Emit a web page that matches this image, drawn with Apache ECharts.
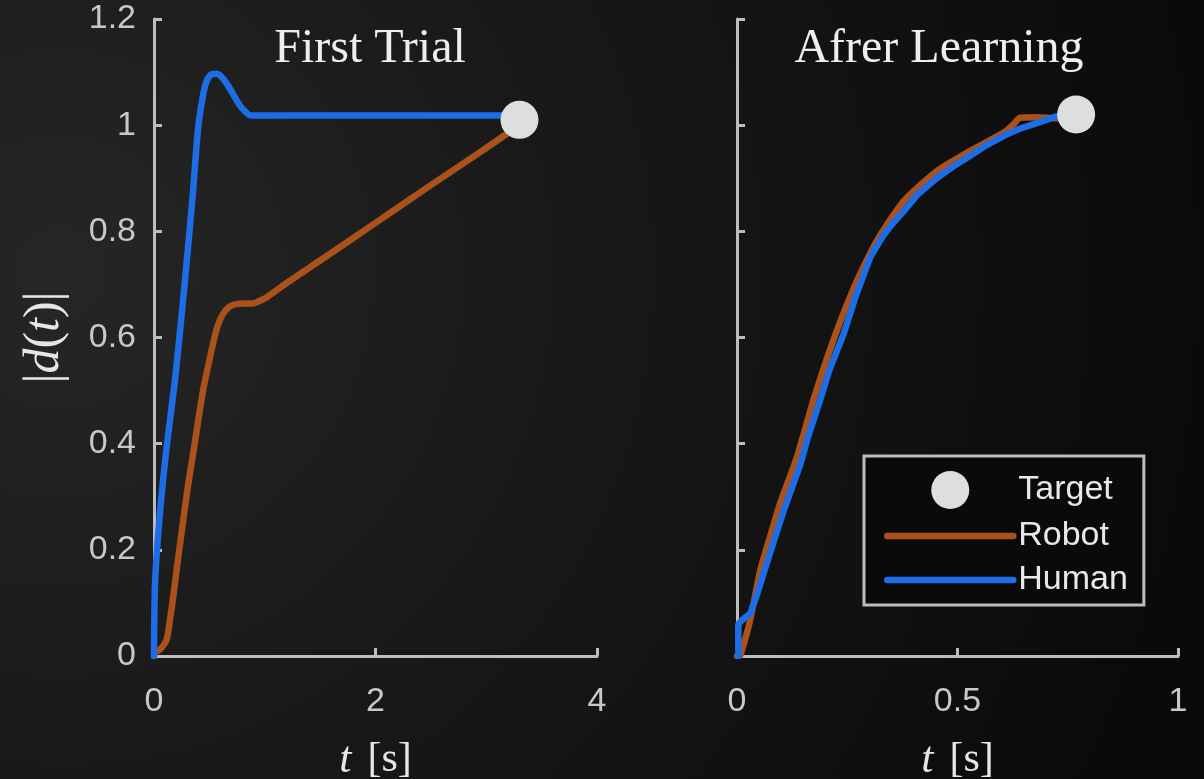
<!DOCTYPE html>
<html>
<head>
<meta charset="utf-8">
<script src="https://cdn.jsdelivr.net/npm/echarts@6/dist/echarts.min.js"></script>
<style>
  html, body { margin: 0; padding: 0; background: #111; }
  #chart { width: 1204px; height: 779px; }
</style>
</head>
<body>
<div id="chart"></div>
<script>
// First trial: distance |d(t)| over time
const firstTime_robot = [0, 0.009, 0.054, 0.114, 0.144, 0.174, 0.216, 0.264, 0.305, 0.353, 0.443, 0.533, 0.575, 0.622, 0.682, 0.742, 0.817, 0.892, 0.952, 1.012, 1.221, 1.5, 2.0, 2.5, 3.0, 3.3];
const firstDist_robot = [0, 0.007, 0.012, 0.031, 0.068, 0.112, 0.181, 0.256, 0.318, 0.381, 0.5, 0.588, 0.622, 0.644, 0.658, 0.663, 0.664, 0.664, 0.669, 0.675, 0.706, 0.745, 0.816, 0.887, 0.957, 1.0];

const firstTime_human = [0, 0.01, 0.054, 0.114, 0.189, 0.25, 0.296, 0.35, 0.398, 0.44, 0.473, 0.512, 0.563, 0.61, 0.667, 0.718, 0.772, 0.817, 0.862, 0.95, 1.5, 2.0, 2.5, 3.0, 3.3];
const firstDist_human = [0, 0.14, 0.27, 0.393, 0.519, 0.644, 0.744, 0.869, 0.994, 1.053, 1.082, 1.095, 1.097, 1.091, 1.075, 1.057, 1.038, 1.027, 1.019, 1.018, 1.018, 1.018, 1.018, 1.018, 1.018];

const firstTarget = [3.3, 1.01];

// After learning
const learnTime_robot = [0, 0.0075, 0.018, 0.03, 0.053, 0.075, 0.098, 0.136, 0.174, 0.222, 0.272, 0.317, 0.378, 0.454, 0.528, 0.605, 0.625, 0.642, 0.68, 0.726, 0.769];
const learnDist_robot = [0, 0.002, 0.03, 0.068, 0.162, 0.225, 0.288, 0.375, 0.484, 0.603, 0.707, 0.782, 0.857, 0.914, 0.951, 0.986, 1.0, 1.014, 1.015, 1.013, 1.02];

const learnTime_human = [0.003, 0.003, 0.012, 0.03, 0.045, 0.06, 0.083, 0.106, 0.125, 0.144, 0.16, 0.188, 0.21, 0.242, 0.27, 0.302, 0.33, 0.35, 0.378, 0.41, 0.454, 0.49, 0.528, 0.565, 0.605, 0.64, 0.68, 0.726, 0.769];
const learnDist_human = [0, 0.06, 0.068, 0.08, 0.115, 0.155, 0.215, 0.274, 0.318, 0.362, 0.41, 0.481, 0.54, 0.607, 0.68, 0.751, 0.79, 0.812, 0.838, 0.87, 0.901, 0.922, 0.942, 0.962, 0.98, 0.993, 1.004, 1.017, 1.02];

const learnTarget = [0.769, 1.02];

// Axis ticks
const firstTicksX = { min: 0, max: 4, interval: 2 };
const learnTicksX = { min: 0, max: 1, interval: 0.5 };
const distTicks = { min: 0, max: 1.2, interval: 0.2 };

const titles = ['First Trial', 'Afrer Learning'];
const seriesNames = ['Target', 'Robot', 'Human'];

const ROBOT = '#aa511c';
const HUMAN = '#1c6de6';
const TARGET = '#dcdfde';
const AXIS = '#bdbdbd';
const SANS = 'Liberation Sans, Arial, sans-serif';
const SERIF = 'Liberation Serif, serif';

const pairs = (xs, ys) => xs.map((x, i) => [x, ys[i]]);

const chart = echarts.init(document.getElementById('chart'), null, { renderer: 'canvas' });

const axisCommon = {
  type: 'value',
  axisLine: { show: true, lineStyle: { color: AXIS, width: 3 } },
  axisTick: { show: true, inside: true, length: 8, lineStyle: { color: AXIS, width: 3 } },
  splitLine: { show: false },
  axisLabel: { color: '#c8c8c8', fontFamily: SANS, fontSize: 34 }
};

const xName = {
  name: '{i|t}{n|[s]}',
  nameLocation: 'middle',
  nameGap: 82,
  nameTextStyle: {
    rich: {
      i: { fontFamily: SERIF, fontStyle: 'italic', fontSize: 44, color: '#e6e6e6', padding: [0, 16, 0, 0] },
      n: { fontFamily: SERIF, fontSize: 42, color: '#e6e6e6' }
    }
  }
};

const lineSeries = (name, data, xi, smooth) => ({
  name, type: 'line', xAxisIndex: xi, yAxisIndex: xi,
  data, symbol: 'none', smooth,
  lineStyle: { color: name === 'Robot' ? ROBOT : HUMAN, width: 6.5, cap: 'round', join: 'round' },
  itemStyle: { color: name === 'Robot' ? ROBOT : HUMAN },
  z: name === 'Robot' ? 2 : 3
});

const targetSeries = (pt, xi) => ({
  name: 'Target', type: 'scatter', xAxisIndex: xi, yAxisIndex: xi,
  data: [pt], symbol: 'circle', symbolSize: 38,
  itemStyle: { color: TARGET, opacity: 1 },
  z: 5
});

chart.setOption({
  animation: false,
  backgroundColor: {
    type: 'radial', x: 0.05, y: 0.35, r: 1.5,
    colorStops: [
      { offset: 0, color: '#262626' },
      { offset: 0.45, color: '#181818' },
      { offset: 1, color: '#0a0a0a' }
    ]
  },
  title: [
    { text: titles[0], left: 370, top: 25, padding: 0, textAlign: 'center',
      textStyle: { fontFamily: SERIF, fontSize: 48, fontWeight: 'normal', color: '#eeeeee' } },
    { text: titles[1], left: 939, top: 25, padding: 0, textAlign: 'center',
      textStyle: { fontFamily: SERIF, fontSize: 48, fontWeight: 'normal', color: '#eeeeee' } }
  ],
  legend: {
    data: [
      { name: seriesNames[0] },
      { name: seriesNames[1], itemStyle: { opacity: 0 } },
      { name: seriesNames[2], itemStyle: { opacity: 0 } }
    ],
    orient: 'vertical',
    left: 864, top: 456,
    padding: [15, 16, 8, 20],
    itemWidth: 126, itemHeight: 38, itemGap: 10, itemTextGap: 8,
    lineStyle: { width: 6.5 },
    backgroundColor: '#0a0a0a',
    borderColor: AXIS, borderWidth: 3, borderRadius: 0,
    textStyle: { color: '#e8e8e8', fontFamily: SANS, fontSize: 34 },
    selectedMode: false
  },
  grid: [
    { left: 154, top: 19, width: 443, height: 637, containLabel: false, outerBoundsMode: 'none' },
    { left: 737, top: 19, width: 441, height: 637, containLabel: false, outerBoundsMode: 'none' }
  ],
  xAxis: [
    Object.assign({}, axisCommon, firstTicksX, xName, { gridIndex: 0,
      axisLabel: Object.assign({}, axisCommon.axisLabel, { margin: 29 }) }),
    Object.assign({}, axisCommon, learnTicksX, xName, { gridIndex: 1,
      axisLabel: Object.assign({}, axisCommon.axisLabel, { margin: 29 }) })
  ],
  yAxis: [
    Object.assign({}, axisCommon, distTicks, {
      gridIndex: 0,
      axisLabel: Object.assign({}, axisCommon.axisLabel, { margin: 18 }),
      name: '{n||}{i|d}{n|(}{i|t}{n|)|}',
      nameLocation: 'middle',
      nameRotate: 90,
      nameGap: 84,
      nameTextStyle: {
        rich: {
          i: { fontFamily: SERIF, fontStyle: 'italic', fontSize: 50, color: '#e6e6e6' },
          n: { fontFamily: SERIF, fontSize: 50, color: '#e6e6e6' }
        }
      }
    }),
    Object.assign({}, axisCommon, distTicks, {
      gridIndex: 1,
      axisLabel: { show: false }
    })
  ],
  series: [
    lineSeries('Robot', pairs(firstTime_robot, firstDist_robot), 0, 0.25),
    lineSeries('Human', pairs(firstTime_human, firstDist_human), 0, 0.25),
    targetSeries(firstTarget, 0),
    lineSeries('Robot', pairs(learnTime_robot, learnDist_robot), 1, 0.2),
    lineSeries('Human', pairs(learnTime_human, learnDist_human), 1, false),
    targetSeries(learnTarget, 1)
  ]
});
</script>
</body>
</html>
